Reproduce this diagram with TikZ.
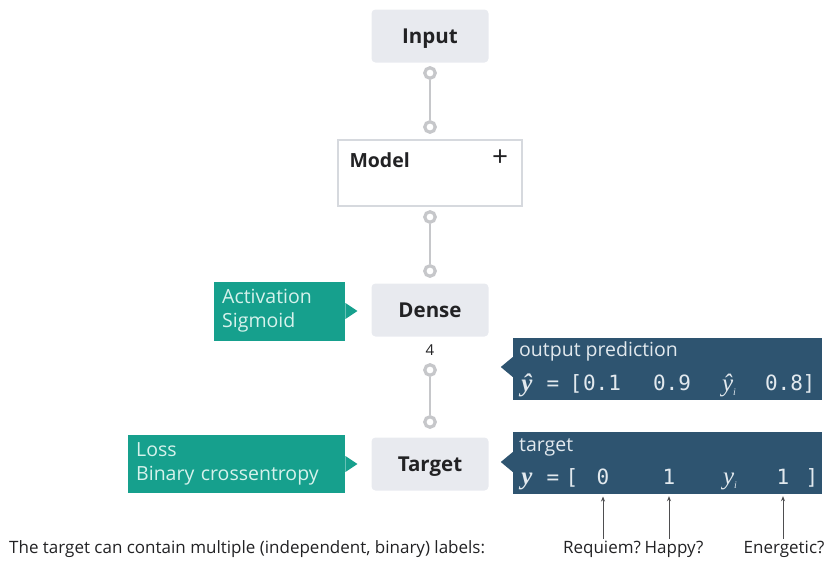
\documentclass[tikz,border=0pt]{standalone}
\usepackage{fontspec}
\setmainfont{Open Sans}
\setmonofont{DejaVu Sans Mono}
\newfontfamily\symfont{Liberation Serif}
\usetikzlibrary{calc,arrows.meta}

\definecolor{boxgray}{RGB}{232,234,239}
\definecolor{edgegray}{RGB}{214,217,222}
\definecolor{portgray}{RGB}{198,199,202}
\definecolor{tagteal}{RGB}{22,160,141}
\definecolor{tagtext}{RGB}{214,242,236}
\definecolor{infoblue}{RGB}{46,84,112}
\definecolor{infotext}{RGB}{226,233,238}
\definecolor{ink}{RGB}{34,34,36}

\newcommand{\subidx}{\raisebox{-4pt}{\fontsize{10}{11}\selectfont\itshape i}}

\tikzset{
  layer/.style={fill=boxgray, rounded corners=4pt, minimum width=117pt, minimum height=53pt,
    text height=18pt, text depth=3pt, text=ink, font=\fontsize{20.5}{24}\selectfont\bfseries},
  port/.style={circle, draw=portgray, line width=3.2pt, fill=white, minimum size=10.5pt, inner sep=0pt},
  wire/.style={draw=portgray, line width=2.5pt},
  tag/.style={fill=tagteal, text=tagtext, anchor=west, align=left, inner sep=8pt,
    minimum height=53pt, font=\fontsize{19.5}{24}\selectfont},
  info/.style={fill=infoblue, minimum width=309pt, minimum height=62pt, inner sep=0pt},
  infolabel/.style={text=infotext, anchor=base west, inner sep=0pt, font=\fontsize{19.5}{22}\selectfont},
  val/.style={text=infotext, anchor=base, inner sep=0pt, font=\fontsize{21}{24}\selectfont\ttfamily},
  sym/.style={val, font=\fontsize{25}{28}\selectfont\symfont\itshape},
  choice/.style={text=ink, inner sep=1pt, font=\fontsize{17}{20}\selectfont},
  pick/.style={-{Stealth[length=5pt,width=4pt]}, draw=ink!80, line width=0.7pt},
}

\begin{document}
\begin{tikzpicture}[x=1pt, y=-1pt]
  \useasboundingbox (0,0) rectangle (830,563);
  % layers
  \node[layer] (input) at (430,36) {Input};
  \node[draw=edgegray, line width=1.2pt, fill=white, minimum width=184pt, minimum height=66pt] (model) at (430,173) {};
  \node[anchor=west, text=ink, font=\fontsize{19.5}{22}\selectfont\bfseries] (modelname) at (346,160) {Model};
  \node[text=ink, font=\fontsize{28}{30}\selectfont] (modelplus) at (500,158) {+};
  \node[layer] (dense) at (430,310) {Dense};
  \node[layer] (target) at (430,464) {Target};
  \node[text=ink, font=\fontsize{15}{17}\selectfont] (units) at (430,350) {4};
  % ports and wires
  \def\ports {(430,73), (430,127), (430,217), (430,271), (430,370), (430,422)};
  \foreach \coords [count=\index] in \ports
  {
    \node[port] (p_\index) at \coords {};
  }
  \foreach \a/\b in {1/2, 3/4, 5/6}
  {
    \draw[wire] (p_\a) -- (p_\b);
  }
  % teal tags
  \node[tag, text width=115pt] (act) at (214,311) {Activation\\Sigmoid};
  \fill[tagteal] ($(act.east)+(0,-8)$) -- ++(12,8) -- ++(-12,8) -- cycle;
  \node[tag, text width=201pt] (loss) at (128,464) {Loss\\Binary crossentropy};
  \fill[tagteal] ($(loss.east)+(0,-8)$) -- ++(12,8) -- ++(-12,8) -- cycle;
  % output prediction
  \node[info] (predbox) at (667.5,369) {};
  \fill[infoblue] ($(predbox.west)+(0,-12)$) -- ++(-12,10) -- ++(12,10) -- cycle;
  \node[infolabel] (predtitle) at (519,356) {output prediction};
  \node[sym] (predhat) at (527,391) {\bfseries ŷ};
  \def\predvals {553/{=}, 576/{[}, 602/{0.1}, 672/{0.9}, 784/{0.8}, 809/{]}};
  \foreach \x/\v [count=\index] in \predvals
  {
    \node[val] (pred\index) at (\x,390) {\v};
  }
  \node[sym] (predi) at (729,391) {ŷ\subidx};
  % target
  \node[info] (tgtbox) at (667.5,463) {};
  \fill[infoblue] ($(tgtbox.west)+(0,-11)$) -- ++(-12,10) -- ++(12,10) -- cycle;
  \node[infolabel] (tgttitle) at (519,451) {target};
  \node[sym] (tgty) at (527,484) {\bfseries y};
  \def\tgtvals {553/{=}, 572/{[}, 603/{0}, 669/{1}, 783/{1}, 812/{]}};
  \foreach \x/\v [count=\index] in \tgtvals
  {
    \node[val] (tgt\index) at (\x,484) {\v};
  }
  \node[sym] (tgti) at (730,484) {y\subidx};
  % labels below
  \node[choice, anchor=west] (note) at (8,549) {The target can contain multiple (independent, binary) labels:};
  \node[choice] (requiem) at (602,549) {Requiem?};
  \node[choice] (happy) at (674,549) {Happy?};
  \node[choice] (energetic) at (784,549) {Energetic?};
  \draw[pick, shorten <=1pt, shorten >=12pt] (requiem.north -| tgt3) -- (tgt3);
  \draw[pick, shorten <=1pt, shorten >=12pt] (happy.north -| tgt4) -- (tgt4);
  \draw[pick, shorten <=1pt, shorten >=12pt] (energetic.north -| tgt5) -- (tgt5);
\end{tikzpicture}
\end{document}
